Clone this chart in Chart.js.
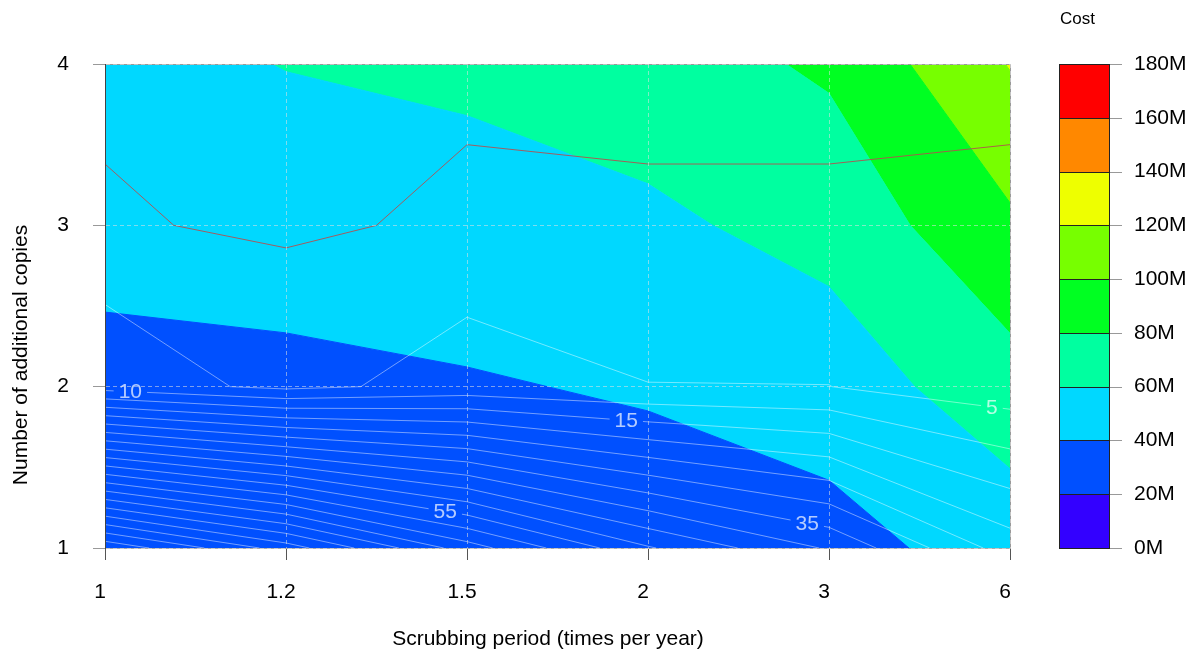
<!DOCTYPE html>
<html>
<head>
<meta charset="utf-8">
<script src="https://cdn.jsdelivr.net/npm/chart.js@4.4.1/dist/chart.umd.min.js"></script>
<style>
  html, body { margin: 0; padding: 0; background: #fff; }
  #wrap { width: 1197px; height: 655px; position: relative; }
</style>
</head>
<body>
<div id="wrap"><canvas id="contour"></canvas></div>
<script>
// scrubbing period (times per year) and number of additional copies
const periods = ['1', '1.2', '1.5', '2', '3', '6'];
const copies = [1, 2, 3, 4];

// cost in M, one row for each number of copies
const cost1 = [27, 28, 28.5, 28.7, 33.2, 48.6];
const cost2 = [35.7, 37, 38.4, 42, 49.4, 71.8];
const cost3 = [45, 46, 51.5, 56.4, 66.5, 96.6];
const cost4 = [52, 60.7, 64, 70.4, 83, 121];

// value drawn as white contour lines
const loss1 = [104, 87.6, 67.4, 50.5, 39.4, 22.5];
const loss2 = [7.7, 3.8, 6.7, 5.1, 5.05, 2.15];
const loss3 = [2.4, 1.5, 2.75, 1.5, 1.0, 0.8];
const loss4 = [1, 0.8, 1, 0.6, 0.4, 0.3];
const lossLevels = [5, 10, 15, 20, 25, 30, 35, 40, 45, 50, 55, 60, 65, 70, 75, 80, 85, 90, 95, 100];
const labelLevels = [10, 15, 55, 35, 5];
const labelAt = [0.14, 2.88, 1.88, 3.88, 4.9];

// margin to target, red line is where it is 0
const target1 = [2, 2, 2, 2, 2, 2];
const target2 = [1, 3.81, 1.5, 1.2, 1.2, 1.2];
const target3 = [0.38, -0.62, 0.62, 0.38, 0.38, 0.5];
const target4 = [-0.62, -1, -0.62, -0.62, -0.62, -0.5];

const costBreaks = [0, 20, 40, 60, 80, 100, 120, 140, 160, 180];
const costColors = ['#3300ff', '#0050ff', '#00d8ff', '#00ffa0', '#00ff22', '#77ff00', '#eeff00', '#ff8800', '#ff0000'];

const FONT = '"Liberation Sans", Arial, sans-serif';
Chart.defaults.font.family = FONT;
Chart.defaults.color = '#000';

const costGrid = [cost1, cost2, cost3, cost4];
const lossGrid = [loss1, loss2, loss3, loss4];
const targetGrid = [target1, target2, target3, target4];

function corner(grid, i, j) {
  return { x: i, y: copies[j], v: grid[j][i] };
}

// keep the part of a polygon above (or below) a value, edges interpolated linearly
function clip(poly, t, keepAbove) {
  const out = [];
  for (let n = 0; n < poly.length; n++) {
    const a = poly[n], b = poly[(n + 1) % poly.length];
    const ina = keepAbove ? a.v >= t : a.v <= t;
    const inb = keepAbove ? b.v >= t : b.v <= t;
    if (ina) out.push(a);
    if (ina !== inb) {
      const f = (t - a.v) / (b.v - a.v);
      out.push({ x: a.x + f * (b.x - a.x), y: a.y + f * (b.y - a.y), v: t });
    }
  }
  return out;
}

// marching squares, segments separated by gaps
function contour(grid, level) {
  const pts = [];
  for (let j = 0; j < copies.length - 1; j++) {
    for (let i = 0; i < periods.length - 1; i++) {
      const c = [corner(grid, i, j), corner(grid, i + 1, j), corner(grid, i + 1, j + 1), corner(grid, i, j + 1)];
      const hits = [];
      for (let e = 0; e < 4; e++) {
        const a = c[e], b = c[(e + 1) % 4];
        if ((a.v < level) !== (b.v < level)) {
          const f = (level - a.v) / (b.v - a.v);
          hits.push({ x: a.x + f * (b.x - a.x), y: a.y + f * (b.y - a.y) });
        }
      }
      for (let h = 0; h + 1 < hits.length; h += 2) {
        pts.push(hits[h], hits[h + 1], { x: null, y: null });
      }
    }
  }
  return pts;
}

function yOnContour(pts, at) {
  for (let n = 0; n + 1 < pts.length; n += 3) {
    const a = pts[n], b = pts[n + 1];
    if (a.x !== b.x && (at - a.x) * (at - b.x) <= 0) {
      return a.y + (at - a.x) / (b.x - a.x) * (b.y - a.y);
    }
  }
  return null;
}

function costAt(x, y) {
  const i = Math.min(Math.floor(x), periods.length - 2), fx = x - i;
  const j = Math.min(Math.floor(y - 1), copies.length - 2), fy = y - copies[j];
  const lo = costGrid[j][i] + fx * (costGrid[j][i + 1] - costGrid[j][i]);
  const hi = costGrid[j + 1][i] + fx * (costGrid[j + 1][i + 1] - costGrid[j + 1][i]);
  return lo + fy * (hi - lo);
}

function bandColor(v) {
  for (let k = 0; k < costColors.length; k++) {
    if (v < costBreaks[k + 1]) return costColors[k];
  }
  return costColors[costColors.length - 1];
}

// filled bands, one polygon per cell and band
const datasets = [];
for (let j = 0; j < copies.length - 1; j++) {
  for (let i = 0; i < periods.length - 1; i++) {
    const cell = [corner(costGrid, i, j), corner(costGrid, i + 1, j), corner(costGrid, i + 1, j + 1), corner(costGrid, i, j + 1)];
    for (let k = 0; k < costColors.length; k++) {
      const p = clip(clip(cell, costBreaks[k], true), costBreaks[k + 1], false);
      if (p.length < 3) continue;
      datasets.push({
        data: p.concat([p[0]]).map(q => ({ x: q.x, y: q.y })),
        showLine: true,
        fill: 'shape',
        backgroundColor: costColors[k],
        borderColor: costColors[k],
        borderWidth: 1,
        pointRadius: 0,
        tension: 0,
        order: 3
      });
    }
  }
}

// white contour lines
const lossLines = {};
lossLevels.forEach(lv => {
  lossLines[lv] = contour(lossGrid, lv);
  datasets.push({
    data: lossLines[lv],
    showLine: true,
    fill: false,
    spanGaps: false,
    borderColor: 'rgba(255,255,255,0.45)',
    borderWidth: 1,
    pointRadius: 0,
    tension: 0,
    order: 2
  });
});

// red target line
datasets.push({
  data: contour(targetGrid, 0),
  showLine: true,
  fill: false,
  spanGaps: false,
  borderColor: 'rgba(178,80,80,0.9)',
  borderWidth: 1,
  pointRadius: 0,
  tension: 0,
  order: 1
});

const extras = {
  id: 'extras',
  afterDatasetsDraw(chart) {
    const { ctx, chartArea: a } = chart;
    const x = chart.scales.x, y = chart.scales.y, cost = chart.scales.cost;
    ctx.save();

    // contour labels
    ctx.font = '21px ' + FONT;
    ctx.textAlign = 'center';
    ctx.textBaseline = 'middle';
    labelLevels.forEach((lv, n) => {
      const at = labelAt[n];
      const yv = yOnContour(lossLines[lv], at);
      if (yv === null) return;
      const px = x.getPixelForValue(at), py = y.getPixelForValue(yv);
      const w = ctx.measureText(String(lv)).width + 10;
      ctx.fillStyle = bandColor(costAt(at, yv));
      ctx.fillRect(px - w / 2, py - 5, w, 10);
      ctx.fillStyle = 'rgba(255,255,255,0.7)';
      ctx.fillText(String(lv), px, py + 1);
    });

    // frame top and right
    ctx.strokeStyle = '#999';
    ctx.lineWidth = 1;
    ctx.beginPath();
    ctx.moveTo(a.left, a.top + 0.5);
    ctx.lineTo(a.right + 0.5, a.top + 0.5);
    ctx.lineTo(a.right + 0.5, a.bottom);
    ctx.stroke();

    // colour bar
    const bx0 = cost.left + 49, bx1 = cost.left + 99;
    costColors.forEach((c, k) => {
      const yt = Math.round(cost.getPixelForValue(costBreaks[k + 1]));
      const yb = Math.round(cost.getPixelForValue(costBreaks[k]));
      ctx.fillStyle = c;
      ctx.fillRect(bx0, yt, bx1 - bx0, yb - yt);
      ctx.strokeStyle = '#222';
      ctx.strokeRect(bx0 + 0.5, yt + 0.5, bx1 - bx0, yb - yt);
    });
    ctx.strokeStyle = '#999';
    costBreaks.forEach(v => {
      const py = Math.round(cost.getPixelForValue(v)) + 0.5;
      ctx.beginPath();
      ctx.moveTo(bx1 + 1, py);
      ctx.lineTo(bx1 + 13, py);
      ctx.stroke();
    });
    ctx.fillStyle = '#000';
    ctx.font = '17px ' + FONT;
    ctx.textAlign = 'left';
    ctx.textBaseline = 'alphabetic';
    ctx.fillText('Cost', bx0 + 1, 24);

    // axis titles
    ctx.font = '21px ' + FONT;
    ctx.textAlign = 'center';
    ctx.fillText('Scrubbing period (times per year)', 548, 645);
    ctx.translate(27, 355);
    ctx.rotate(-Math.PI / 2);
    ctx.fillText('Number of additional copies', 0, 0);

    ctx.restore();
  }
};

new Chart(document.getElementById('contour'), {
  type: 'scatter',
  data: { datasets: datasets },
  options: {
    responsive: true,
    maintainAspectRatio: false,
    animation: false,
    events: [],
    layout: { padding: { top: 64, left: 0, right: 0, bottom: 0 } },
    plugins: { legend: { display: false }, tooltip: { enabled: false } },
    scales: {
      x: {
        type: 'linear', position: 'bottom', min: 0, max: 5,
        ticks: { stepSize: 1, callback: v => periods[v], font: { size: 21 }, padding: 20, labelOffset: -5, maxRotation: 0 },
        grid: { color: 'rgba(225,225,225,0.55)', tickLength: 12, tickColor: '#555', tickBorderDash: [], z: 1 },
        border: { color: '#aaa', dash: [4, 3], z: 1 },
        afterFit: s => { s.height = 107; }
      },
      y: {
        type: 'linear', position: 'left', min: 1, max: 4,
        ticks: { stepSize: 1, font: { size: 21 }, padding: 24 },
        grid: { color: 'rgba(225,225,225,0.55)', tickLength: 12, tickColor: '#999', tickBorderDash: [], z: 1 },
        border: { color: '#444', dash: [4, 3], z: 1 },
        afterFit: s => { s.width = 105; }
      },
      cost: {
        type: 'linear', position: 'right', min: 0, max: 180,
        ticks: { stepSize: 20, callback: v => v + 'M', font: { size: 21 }, padding: 10 },
        grid: { display: true, drawOnChartArea: false, drawTicks: true, tickLength: 114, tickColor: 'rgba(0,0,0,0)' },
        border: { display: false },
        afterFit: s => { s.width = 187; }
      }
    }
  },
  plugins: [extras]
});
</script>
</body>
</html>
